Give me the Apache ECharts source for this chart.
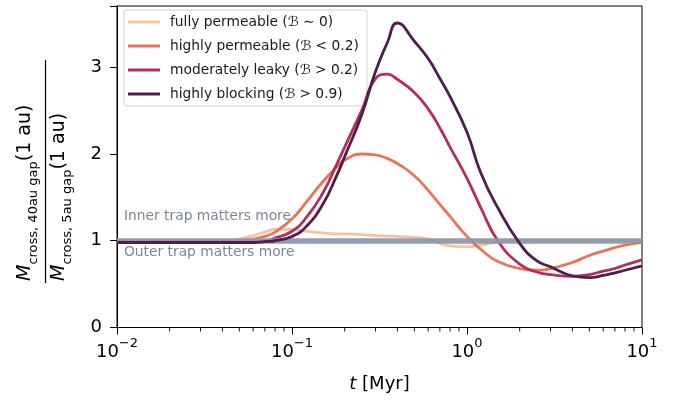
<!DOCTYPE html>
<html>
<head>
<meta charset="utf-8">
<script src="https://cdn.jsdelivr.net/npm/echarts@6/dist/echarts.min.js"></script>
<style>
  html, body { margin: 0; padding: 0; background: #fff; }
  #chart { width: 684px; height: 408px; }
</style>
</head>
<body>
<div id="chart"></div>
<script>
// ---- data ----
const tMyr = [0.01, 0.02, 0.03, 0.04, 0.05, 0.06, 0.07, 0.08, 0.1, 0.12, 0.15, 0.18, 0.2, 0.25, 0.3, 0.35, 0.4, 0.5, 0.6, 0.7, 0.8, 1.0, 1.2, 1.5, 2, 2.5, 3, 4, 5, 6, 7, 8, 10];
const fullyPermeable = [1.0, 1.0, 0.99, 1.0, 1.02, 1.06, 1.10, 1.13, 1.13, 1.11, 1.09, 1.08, 1.08, 1.07, 1.06, 1.055, 1.05, 1.04, 1.02, 0.97, 0.94, 0.93, 0.95, 0.985, 1.0, 1.0, 1.0, 1.0, 1.0, 1.0, 1.0, 1.0, 1.0];
const highlyPermeable = [0.99, 0.99, 0.99, 0.99, 1.0, 1.02, 1.05, 1.1, 1.25, 1.44, 1.68, 1.85, 1.93, 2.0, 1.99, 1.95, 1.89, 1.75, 1.58, 1.42, 1.28, 1.05, 0.90, 0.76, 0.68, 0.66, 0.68, 0.75, 0.83, 0.88, 0.92, 0.95, 0.98];
const moderatelyLeaky = [0.98, 0.98, 0.98, 0.98, 0.98, 0.99, 1.0, 1.03, 1.11, 1.26, 1.55, 1.88, 2.08, 2.5, 2.87, 2.92, 2.86, 2.71, 2.52, 2.3, 2.08, 1.72, 1.38, 1.0, 0.73, 0.64, 0.61, 0.59, 0.61, 0.65, 0.68, 0.72, 0.78];
const highlyBlocking = [0.98, 0.98, 0.98, 0.98, 0.98, 0.98, 0.99, 1.0, 1.05, 1.16, 1.42, 1.75, 1.97, 2.45, 2.95, 3.28, 3.51, 3.3, 3.1, 2.87, 2.66, 2.25, 1.78, 1.38, 0.97, 0.77, 0.70, 0.595, 0.575, 0.6, 0.63, 0.66, 0.71];
const seriesNames = ['fully permeable (\u212C \u223C 0)', 'highly permeable (\u212C < 0.2)', 'moderately leaky (\u212C > 0.2)', 'highly blocking (\u212C > 0.9)'];
const seriesColors = ['#f4c3a2', '#e6765a', '#b52e5a', '#4d1f4c'];
const yTicks = [0, 1, 2, 3];
const referenceLevel = 1;
const innerText = 'Inner trap matters more';
const outerText = 'Outer trap matters more';

const FONT = 'DejaVu Sans';
const allSeries = [fullyPermeable, highlyPermeable, moderatelyLeaky, highlyBlocking];

// minor tick values for the log axis (2..9 x 10^k)
const minorTickVals = [];
for (let k = -2; k < 1; k++) for (let m = 2; m <= 9; m++) minorTickVals.push(m * Math.pow(10, k));

const chart = echarts.init(document.getElementById('chart'), null, { renderer: 'canvas' });

const lineSeries = allSeries.map((vals, i) => ({
  name: seriesNames[i],
  type: 'line',
  data: tMyr.map((t, j) => [t, vals[j]]),
  showSymbol: false,
  smooth: 0.5,
  color: seriesColors[i],
  lineStyle: { width: 2.8, color: seriesColors[i] },
  z: 2 + i
}));

const option = {
  animation: false,
  backgroundColor: '#ffffff',
  textStyle: { fontFamily: FONT },
  grid: { left: 117, right: 42, top: 6, bottom: 80.5, show: true, borderColor: '#000', borderWidth: 1, backgroundColor: 'transparent' },
  legend: {
    orient: 'vertical',
    left: 124, top: 10,
    data: seriesNames,
    icon: 'rect',
    itemWidth: 32, itemHeight: 3,
    itemGap: 8,
    padding: [4, 8, 4, 4],
    backgroundColor: 'rgba(255,255,255,0.85)',
    borderColor: '#d0d0d0', borderWidth: 1, borderRadius: 3,
    textStyle: { fontFamily: FONT, fontSize: 13.8, color: '#1a1a1a', lineHeight: 16, padding: [0, 0, 0, 5] },
    selectedMode: false
  },
  xAxis: {
    type: 'log', logBase: 10, min: 0.01, max: 10,
    name: '{i|t} [Myr]',
    nameLocation: 'middle', nameGap: 48,
    nameTextStyle: { fontFamily: FONT, fontSize: 18, color: '#000', rich: { i: { fontStyle: 'italic', fontSize: 18, fontFamily: FONT, color: '#000' } } },
    axisLine: { lineStyle: { color: '#000', width: 1 } },
    axisTick: { show: true, length: 7, inside: false, lineStyle: { color: '#000', width: 1 } },
    splitLine: { show: false },
    minorTick: { show: false },
    axisLabel: {
      margin: 10,
      formatter: function (v) {
        const e = Math.round(Math.log10(v));
        const ex = (e < 0 ? '\u2212' : '') + Math.abs(e);
        return '{b|10}{e|' + ex + '}';
      },
      rich: {
        b: { fontFamily: FONT, fontSize: 18, color: '#000', lineHeight: 24, verticalAlign: 'bottom' },
        e: { fontFamily: FONT, fontSize: 13, color: '#000', lineHeight: 13, verticalAlign: 'top' }
      }
    }
  },
  yAxis: {
    type: 'value', min: 0, max: 3.706, interval: 1,
    axisLine: { show: true, lineStyle: { color: '#000', width: 1 } },
    axisTick: { show: true, length: 7, lineStyle: { color: '#000', width: 1 } },
    splitLine: { show: false },
    axisLabel: {
      margin: 15, fontSize: 18, color: '#000', fontFamily: FONT,
      formatter: function (v) { return yTicks.indexOf(v) >= 0 ? String(v) : ''; }
    }
  },
  series: lineSeries.concat([
    {
      name: 'ref',
      type: 'line',
      data: [],
      z: 10,
      markLine: {
        silent: true, symbol: 'none', animation: false,
        label: { show: false },
        lineStyle: { color: '#8f99a6', width: 5.5, type: 'solid', opacity: 0.95 },
        data: [{ yAxis: referenceLevel }]
      }
    },
    {
      name: 'minorTicks',
      type: 'custom',
      clip: false,
      silent: true,
      data: minorTickVals.map(v => [v, 0]),
      renderItem: function (params, api) {
        const p = api.coord([api.value(0), 0]);
        return { type: 'line', shape: { x1: p[0], y1: p[1], x2: p[0], y2: p[1] + 4 }, style: { stroke: '#000', lineWidth: 0.9 } };
      },
      z: 20
    }
  ]),
  graphic: [
    { type: 'text', left: 124, top: 209, style: { text: innerText, fontFamily: FONT, fontSize: 13.8, fill: '#7d8797' }, z: 50 },
    { type: 'text', left: 124, top: 245, style: { text: outerText, fontFamily: FONT, fontSize: 13.8, fill: '#7d8797' }, z: 50 },
    {
      type: 'text', x: 25, y: 281, rotation: Math.PI / 2,
      style: {
        text: '{m|M}{s|cross, 40au gap}{p|(1 au)}',
        align: 'left', verticalAlign: 'middle',
        rich: {
          m: { fontFamily: FONT, fontStyle: 'italic', fontSize: 19, lineHeight: 30, verticalAlign: 'middle', fill: '#000' },
          s: { fontFamily: FONT, fontSize: 13, lineHeight: 13, verticalAlign: 'bottom', fill: '#000' },
          p: { fontFamily: FONT, fontSize: 19, lineHeight: 30, verticalAlign: 'middle', fill: '#000' }
        }
      }
    },
    { type: 'line', shape: { x1: 45.5, y1: 60, x2: 45.5, y2: 283 }, style: { stroke: '#000', lineWidth: 1.2 } },
    {
      type: 'text', x: 59.5, y: 281, rotation: Math.PI / 2,
      style: {
        text: '{m|M}{s|cross, 5au gap}{p|(1 au)}',
        align: 'left', verticalAlign: 'middle',
        rich: {
          m: { fontFamily: FONT, fontStyle: 'italic', fontSize: 19, lineHeight: 30, verticalAlign: 'middle', fill: '#000' },
          s: { fontFamily: FONT, fontSize: 13, lineHeight: 13, verticalAlign: 'bottom', fill: '#000' },
          p: { fontFamily: FONT, fontSize: 19, lineHeight: 30, verticalAlign: 'middle', fill: '#000' }
        }
      }
    }
  ]
};
chart.setOption(option);
</script>
</body>
</html>
